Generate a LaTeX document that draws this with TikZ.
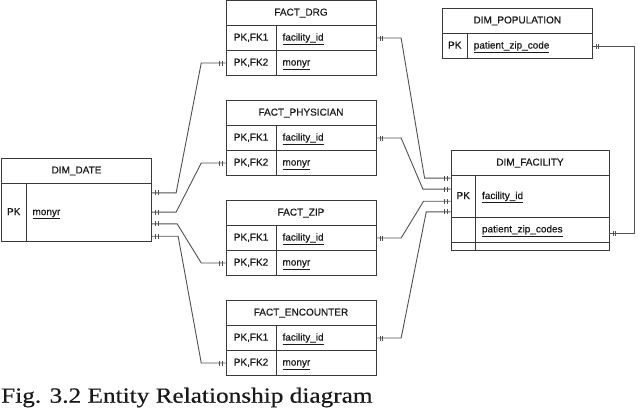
\documentclass[tikz,border=0pt]{standalone}
\usepackage{graphicx}
\usepackage{fontspec}
\setmainfont{Liberation Sans}
\newfontfamily\boxfont[FakeBold=0.6]{Liberation Sans}
\newfontfamily\capfont[FakeBold=0.4]{Liberation Serif}
\usetikzlibrary{decorations.markings,calc}
\definecolor{boxc}{HTML}{3A3A3A}
\definecolor{linec}{HTML}{505050}
\definecolor{txtc}{HTML}{1A1A1A}
\tikzset{
  cell/.style={draw=boxc, line width=0.9pt, fill=white,
    font=\boxfont\fontsize{10}{12}\selectfont, text=txtc, minimum height=25pt,
    inner sep=0pt, text height=7.2pt, text depth=2pt},
  keyc/.style={cell, minimum width=#1},
  fld/.style={cell, text width=#1, inner xsep=6.5pt, align=left},
  blank/.style={cell, text height=0pt, text depth=0pt},
  tk/.style={draw=linec, line width=0.9pt},
  rel/.style={draw=linec, line width=0.9pt, postaction={decorate},
    decoration={markings,
      mark=at position 3.5pt with {\draw[tk] (0,-2.5pt)--(0,2.5pt);},
      mark=at position 6pt with {\draw[tk] (0,-2.5pt)--(0,2.5pt);},
      mark=at position -3.5pt with {\draw[tk] (0,-2.5pt)--(0,2.5pt);},
      mark=at position -6pt with {\draw[tk] (0,-2.5pt)--(0,2.5pt);}}}
}
\newcommand\factent[3]{%
  \node[cell, minimum width=150pt] (#1T) at (301,{#2+12.5}) {#3};
  \node[keyc=50pt] (#1K1) at (251,{#2+37.5}) {PK,FK1};
  \node[fld=87pt] (#1F1) at (326,{#2+37.5}) {\underline{facility\_id}};
  \node[keyc=50pt] (#1K2) at (251,{#2+62.5}) {PK,FK2};
  \node[fld=87pt] (#1F2) at (326,{#2+62.5}) {\underline{monyr}};
}
\begin{document}
\begin{tikzpicture}[x=1pt,y=-1pt]
\useasboundingbox[fill=white] (0,0) rectangle (640,410);
% fact tables
\factent{drg}{0.5}{FACT\_DRG}
\factent{phy}{100.5}{FACT\_PHYSICIAN}
\factent{zip}{200.5}{FACT\_ZIP}
\factent{enc}{300.5}{FACT\_ENCOUNTER}
% DIM_DATE
\node[cell, minimum width=150pt] (ddT) at (76.5,170.8) {DIM\_DATE};
\node[keyc=24.5pt, minimum height=58.4pt] (ddK) at (13.75,212.5) {PK};
\node[fld=112.5pt, minimum height=58.4pt] (ddF) at (88.75,212.5) {\underline{monyr}};
% DIM_POPULATION
\node[cell, minimum width=150pt] (dpT) at (517.3,20.8) {DIM\_POPULATION};
\node[keyc=25pt, minimum height=25.4pt] (dpK) at (454.8,46) {PK};
\node[fld=112pt, minimum height=25.4pt] (dpF) at (529.8,46) {\underline{patient\_zip\_code}};
% DIM_FACILITY
\node[cell, minimum width=158pt] (dfT) at (530,163) {DIM\_FACILITY};
\node[keyc=24.5pt, minimum height=41.8pt] (dfK1) at (463.25,196.4) {PK};
\node[fld=120.5pt, minimum height=41.8pt] (dfF1) at (542.25,196.4) {\underline{facility\_id}};
\node[blank, minimum width=24.5pt] (dfK2) at (463.25,229.8) {};
\node[fld=120.5pt] (dfF2) at (542.25,229.8) {\underline{patient\_zip\_codes}};
\node[blank, minimum width=24.5pt, minimum height=7.7pt] (dfK3) at (463.25,246.15) {};
\node[blank, minimum width=133.5pt, minimum height=7.7pt] (dfF3) at (542.25,246.15) {};
% DIM_DATE relations
\draw[rel] ([yshift=-10pt]ddF.north east) -- ++(24.2,0) -- ($(drgK2.west)+(-24.3,0)$) -- (drgK2.west);
\draw[rel] ([yshift=-29.2pt]ddF.north east) -- ++(24.2,0) -- ($(phyK2.west)+(-24.3,0)$) -- (phyK2.west);
\draw[rel] ([yshift=-41pt]ddF.north east) -- ++(25.2,0) -- ($(zipK2.west)+(-24.3,0)$) -- (zipK2.west);
\draw[rel] ([yshift=-53.4pt]ddF.north east) -- ++(26.2,0) -- ($(encK2.west)+(-24.3,0)$) -- (encK2.west);
% DIM_FACILITY relations
\draw[rel] (drgF1.east) -- ++(24.7,0) -- ($([yshift=-3pt]dfK1.north west)+(-26,0)$) -- ([yshift=-3pt]dfK1.north west);
\draw[rel] (phyF1.east) -- ++(24.7,0) -- ($([yshift=-14pt]dfK1.north west)+(-27.7,0)$) -- ([yshift=-14pt]dfK1.north west);
\draw[rel] (zipF1.east) -- ++(24.7,0) -- ($([yshift=-26.2pt]dfK1.north west)+(-27,0)$) -- ([yshift=-26.2pt]dfK1.north west);
\draw[rel] (encF1.east) -- ++(24.7,0) -- ($([yshift=-36.8pt]dfK1.north west)+(-24.3,0)$) -- ([yshift=-36.8pt]dfK1.north west);
% DIM_POPULATION relation
\draw[rel] (dpF.east) -- ++(41.7,0) |- ([yshift=-3.5pt]dfF2.east);
% caption
\node[anchor=base west, inner sep=0pt, text=black!90] (cap) at (1,402.7)
  {\scalebox{1.17}[1]{\fontsize{21.6}{24}\capfont Fig. 3.2 Entity Relationship diagram}};
\end{tikzpicture}
\end{document}
